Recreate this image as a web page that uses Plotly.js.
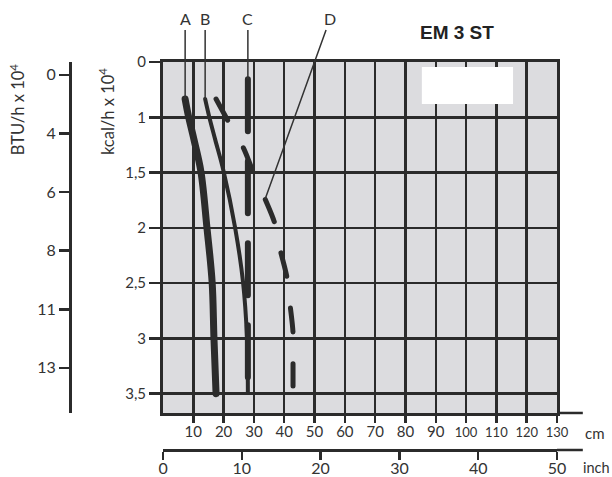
<!DOCTYPE html>
<html><head><meta charset="utf-8">
<script src="https://cdn.plot.ly/plotly-3.0.1.min.js"></script>
<style>html,body{margin:0;padding:0;background:#fff}#chart{width:612px;height:477px}
path.js-line{stroke-linecap:round;stroke-linejoin:round}</style>
</head><body><div id="chart"></div>
<script>
// ---- data (x in cm, y in kcal/h x 10^4) ----
const aCm   = [7.3, 8.4, 10.2, 12.5, 14.5, 16.2, 16.8, 17.5];
const aKcal = [0.67, 0.98, 1.2, 1.49, 2.0, 2.49, 2.99, 3.5];
const bCm   = [13.9, 15.2, 17.2, 20.0, 23.8, 26.4, 27.7, 28.0];
const bKcal = [0.67, 0.98, 1.2, 1.49, 2.0, 2.49, 2.99, 3.49];
const cCm   = [28.0, 28.0];
const cKcal = [0.31, 3.5];
const dCm   = [17.5, 22.4, 26.4, 29.7, 33.7, 37.0, 38.6, 40.9, 41.9, 42.9, 42.9, 42.9];
const dKcal = [0.67, 1.08, 1.27, 1.49, 1.74, 1.97, 2.19, 2.45, 2.69, 2.95, 3.17, 3.43];
const seriesLabels = ['A', 'B', 'C', 'D'];
const kcalTicks = [0, 1, 1.5, 2, 2.5, 3, 3.5];
const kcalTickText = ['0', '1', '1,5', '2', '2,5', '3', '3,5'];
const btuTickText = ['0', '4', '6', '8', '11', '13'];
const cmTicks = [10, 20, 30, 40, 50, 60, 70, 80, 90, 100, 110, 120, 130];
const inchTicks = [0, 10, 20, 30, 40, 50];
const chartTitle = 'EM 3 ST';

// the kcal scale is stepped: 0 and 1 one step apart, then 0.5 per step
const pos = v => (v <= 1 ? v : 2 * v - 1);
const P = arr => arr.map(pos);

const ink = '#2b2b2b';
const fam = 'Lato, "DejaVu Sans", sans-serif';
const tickFont = {family: fam, size: 15, color: '#333'};
const cmText = cmTicks.map(v => v >= 100 ? '<span style="font-size:13px">' + v + '</span>' : String(v));

const traces = [
  {x: aCm, y: P(aKcal), mode: 'lines', line: {color: ink, width: 7, shape: 'spline'}, name: 'A'},
  {x: bCm, y: P(bKcal), mode: 'lines', line: {color: ink, width: 4, shape: 'spline'}, name: 'B'},
  {x: cCm, y: P(cKcal), mode: 'lines', line: {color: ink, width: 6, dash: '52px,30px'}, name: 'C'},
  {x: dCm, y: P(dKcal), mode: 'lines', line: {color: ink, width: 5, dash: '24px,32px', shape: 'spline'}, name: 'D'},
  {x: [], y: [], xaxis: 'x2', yaxis: 'y2', mode: 'lines', showlegend: false, hoverinfo: 'skip'}
];

const heads = [
  [aCm[0], pos(aKcal[0])],
  [bCm[0], pos(bKcal[0])],
  [cCm[0], pos(cKcal[0])],
  [dCm[4], pos(dKcal[4])]
];
const labelX = [aCm[0], bCm[0], cCm[0], 55.1];

const annotations = seriesLabels.map((t, i) => ({
  text: t, x: heads[i][0], y: heads[i][1], xref: 'x', yref: 'y',
  ax: labelX[i], ay: -0.78, axref: 'x', ayref: 'y',
  showarrow: true, arrowhead: 0, arrowwidth: 1.5, arrowcolor: '#333', standoff: 0,
  font: {family: fam, size: 16, color: '#333'}
}));
const txt = (text, x, y, size, extra) => Object.assign({text, x, y, xref: 'paper', yref: 'paper',
  xanchor: 'center', yanchor: 'middle', showarrow: false, font: {family: fam, size, color: '#333'}}, extra || {});
annotations.push(
  txt(chartTitle, 0.795, 1.075, 19, {font: {family: '"Liberation Sans", Arial, sans-serif', size: 19, color: '#222', weight: 'bold'}}),
  txt('kcal/h x 10<sup>4</sup>', 0.076, 0.871, 16.5, {textangle: -90}),
  txt('BTU/h x 10<sup>4</sup>', -0.107, 0.878, 16.5, {textangle: -90}),
  txt('cm', 1.053, 0.044, 15, {xanchor: 'left'}),
  txt('inch', 1.05, -0.046, 14.5, {xanchor: 'left'})
);

const layout = {
  width: 612, height: 477,
  margin: {l: 70, r: 55, t: 62, b: 27},
  paper_bgcolor: '#fff', plot_bgcolor: '#dcdcdf',
  showlegend: false,
  xaxis: {domain: [0.191, 1], range: [0, 130], tickvals: cmTicks, ticktext: cmText, ticks: 'outside', ticklen: 7, tickwidth: 2.5,
          tickcolor: ink, showgrid: true, gridcolor: ink, gridwidth: 2.5, showline: true, mirror: true,
          linewidth: 3, linecolor: ink, zeroline: false, anchor: 'y', tickfont: tickFont, ticklabelstandoff: -4},
  yaxis: {domain: [0.0954, 1], range: [6.35, 0], tickvals: P(kcalTicks), ticktext: kcalTickText, ticks: 'outside',
          ticklen: 11, tickwidth: 2.5, tickcolor: ink, showgrid: true, gridcolor: ink, gridwidth: 2.5,
          showline: true, mirror: true, linewidth: 3, linecolor: ink, zeroline: false, anchor: 'x', tickfont: tickFont},
  xaxis2: {overlaying: 'x', anchor: 'free', position: 0, side: 'bottom', range: [0, 50], tickvals: inchTicks,
           ticks: 'outside', ticklen: 8, tickwidth: 2.5, tickcolor: ink, showgrid: false, showline: true,
           linewidth: 2.5, linecolor: ink, zeroline: false, tickfont: {...tickFont, size: 16}, ticklabelstandoff: -5},
  yaxis2: {overlaying: 'y', anchor: 'free', position: 0, side: 'left', range: [5.77, -0.22],
           tickvals: btuTickText.map((_, i) => i), ticktext: btuTickText, ticks: 'outside', ticklen: 10,
           tickwidth: 2.5, tickcolor: ink, showgrid: false, showline: true, linewidth: 2.5, linecolor: ink,
           zeroline: false, tickfont: {...tickFont, size: 16}},
  shapes: [
    {type: 'rect', xref: 'x', yref: 'y', x0: 85.4, x1: 115.5, y0: 0.09, y1: 0.76,
     fillcolor: '#fff', line: {width: 0}, layer: 'above'},
    {type: 'line', xref: 'paper', yref: 'paper', x0: 1, x1: 1.053, y0: 0.0954, y1: 0.0954, line: {color: ink, width: 2.5}},
    {type: 'line', xref: 'paper', yref: 'paper', x0: 1, x1: 1.053, y0: 0, y1: 0, line: {color: ink, width: 2.5}}
  ],
  annotations: annotations
};

Plotly.newPlot('chart', traces, layout, {staticPlot: true, displayModeBar: false});
</script></body></html>
